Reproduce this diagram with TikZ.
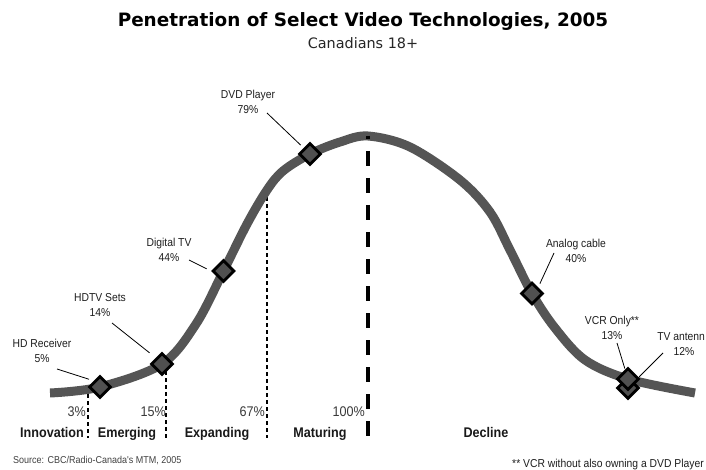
\documentclass[tikz,border=0pt]{standalone}
\usepackage{fontspec}
\setmainfont{Liberation Sans}
\newfontfamily\labfam[FakeStretch=0.9]{Liberation Sans}
\newfontfamily\titlefam{DejaVu Sans}
\usetikzlibrary{shapes.geometric}
\definecolor{curvegray}{HTML}{555555}
\definecolor{dmdgray}{HTML}{505050}
\definecolor{pctgray}{HTML}{3A3A3A}
\tikzset{
  curveline/.style={draw=curvegray, line width=9pt, line cap=butt},
  dmd/.style={shape=diamond, draw=black, fill=dmdgray, line width=2.8pt,
    minimum width=22pt, minimum height=22pt, inner sep=0pt},
  leader/.style={draw=black, line width=0.8pt},
  lab/.style={font=\labfam\fontsize{11.5}{15.5}\selectfont, align=center, inner sep=0pt, text=black!88},
  pct/.style={font=\labfam\fontsize{14}{16}\selectfont, text=pctgray, inner sep=0pt, anchor=base east},
  stage/.style={font=\labfam\bfseries\fontsize{14}{16}\selectfont, inner sep=0pt, anchor=base, text=black!90},
  thindash/.style={draw=black, line width=1.8pt, dash pattern=on 4pt off 3pt},
  thickdash/.style={draw=black, line width=4.5pt, dash pattern=on 15pt off 12pt, dash phase=12pt},
}
\begin{document}
\begin{tikzpicture}[x=1pt,y=-1pt]
\useasboundingbox[fill=white] (0,0) rectangle (706,470);

% title
\node[font=\titlefam\bfseries\fontsize{18.4}{22}\selectfont, anchor=base, inner sep=0pt] (title) at (363,27) {Penetration of Select Video Technologies, 2005};
\node[font=\titlefam\fontsize{14.4}{17}\selectfont, anchor=base, inner sep=0pt, text=black!85] (subtitle) at (363,48.5) {Canadians 18+};

% thin stage dividers
\draw[thindash] (88,387) -- (88,438);
\draw[thindash] (166,364) -- (166,438);
\draw[thindash] (267,190) -- (267,438);

% adoption curve
\draw[curveline] plot[smooth, tension=0.55] coordinates {
  (50,393) (100,387) (162,364) (196,324) (223.5,271) (247,224) (267,190)
  (283,171) (310,154) (340,142) (368,136) (410,147) (460,180) (490,212)
  (510,250) (532,293.5) (555,328) (585,360) (628,379) (695,393)};

% thick divider
\draw[thickdash] (368,136) -- (368,438);

% diamonds
\node[dmd] (dHDR) at (100,387) {};
\node[dmd] (dHDTV) at (162,364) {};
\node[dmd] (dDTV) at (223.5,271) {};
\node[dmd] (dDVD) at (310,154) {};
\node[dmd] (dAC) at (532,293.5) {};
\node[dmd] (dTVA) at (628,388) {};
\node[dmd] (dVCR) at (628,379) {};

% labels
\node[lab] (lDVD) at (248,102) {DVD Player\\79\%};
\node[lab] (lDTV) at (169,250) {Digital TV\\44\%};
\node[lab] (lHDTV) at (100,305) {HDTV Sets\\14\%};
\node[lab] (lHDR) at (42,351) {HD Receiver\\5\%};
\node[lab] (lAC) at (576,251) {Analog cable\\40\%};
\node[lab] (lVCR) at (612,328) {VCR Only**\\13\%};
\node[lab] (lTVA) at (684,344) {TV antenn\phantom{a}\\12\%};

% leader lines
\coordinate (sDVD) at (267,113);
\coordinate (sDTV) at (189,260);
\coordinate (sHDTV) at (112,323);
\coordinate (sHDR) at (57,369);
\coordinate (sAC) at (554,253);
\coordinate (sVCR) at (617,343);
\coordinate (sTVA) at (663,353);
\draw[leader, shorten >=4pt] (sDVD) -- (dDVD);
\draw[leader, shorten >=5pt] (sDTV) -- (dDTV.west);
\draw[leader, shorten >=8pt] (sHDTV) -- (dHDTV.north west);
\draw[leader, shorten >=5pt] (sHDR) -- (dHDR.north west);
\draw[leader, shorten >=4pt] (sAC) -- (dAC.north east);
\draw[leader, shorten >=1pt] (sVCR) -- (dVCR);
\draw[leader, shorten >=7pt] (sTVA) -- (dTVA);

% percentage thresholds
\node[pct] (p3) at (86,416.5) {3\%};
\node[pct] (p15) at (166,416.5) {15\%};
\node[pct] (p67) at (265,416.5) {67\%};
\node[pct] (p100) at (365,416.5) {100\%};

% stage names
\node[stage] (sInn) at (52,437.5) {Innovation};
\node[stage] (sEme) at (127,437.5) {Emerging};
\node[stage] (sExp) at (217,437.5) {Expanding};
\node[stage] (sMat) at (320,437.5) {Maturing};
\node[stage] (sDec) at (486,437.5) {Decline};

% footnotes
\node[font=\labfam\fontsize{10}{12}\selectfont, text=black!75, anchor=base west, inner sep=0pt] (src) at (13,463.5) {Source: CBC/Radio-Canada's MTM, 2005};
\node[font=\labfam\fontsize{11.5}{14}\selectfont, text=black!88, anchor=base east, inner sep=0pt] (fn) at (704,467.5) {** VCR without also owning a DVD Player};
\end{tikzpicture}
\end{document}
